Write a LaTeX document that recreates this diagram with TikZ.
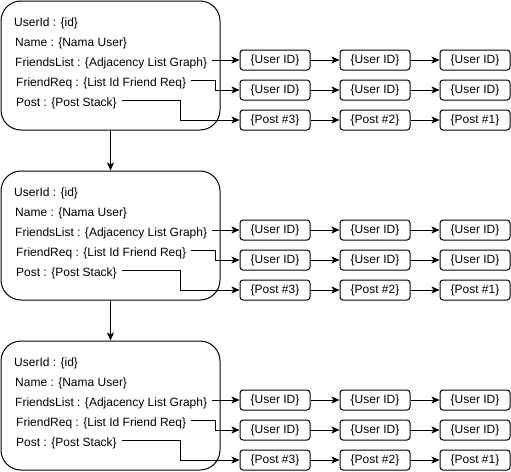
\documentclass[tikz,border=0pt]{standalone}
\usepackage{fontspec}
\setmainfont{Liberation Sans}
\usetikzlibrary{arrows.meta}
\begin{document}
\begin{tikzpicture}[x=1pt,y=-1pt,
  bigbox/.style={draw,line width=1pt,rounded corners=20pt,minimum width=219pt,minimum height=129pt,inner sep=0pt},
  cell/.style={draw,line width=1pt,rounded corners=3pt,minimum width=70pt,minimum height=20pt,inner sep=0pt,font=\fontsize{12pt}{14pt}\selectfont},
  txt/.style={anchor=west,inner xsep=5pt,inner ysep=0pt,text height=12pt,text depth=0pt,font=\fontsize{12pt}{14pt}\selectfont},
  arr/.style={line width=1pt,-{Stealth[length=8pt,width=7pt,inset=2pt]}},
  ln/.style={line width=1pt}]
\useasboundingbox (0,0) rectangle (511,471);
\fill[white] (0,0) rectangle (511,471);
\foreach \g/\o in {1/0,2/170,3/340}{
  \node[bigbox] (b\g) at (110.5,65.5+\o) {};
  \node[txt] (id\g) at (9,20+\o) {UserId : \{id\}};
  \node[txt] (nm\g) at (10,40+\o) {Name : \{Nama User\}};
  \node[txt] (fl\g) at (10,60+\o) {FriendsList : \{Adjacency List Graph\}};
  \node[txt] (fr\g) at (11,80+\o) {FriendReq : \{List Id Friend Req\}};
  \node[txt] (ps\g) at (11,100+\o) {Post : \{Post Stack\}};
  \node[cell] (ua\g) at (275,60+\o) {\{User ID\}};
  \node[cell] (ub\g) at (375,60+\o) {\{User ID\}};
  \node[cell] (uc\g) at (475,60+\o) {\{User ID\}};
  \node[cell] (ra\g) at (275,90+\o) {\{User ID\}};
  \node[cell] (rb\g) at (375,90+\o) {\{User ID\}};
  \node[cell] (rc\g) at (475,90+\o) {\{User ID\}};
  \node[cell] (pa\g) at (275,120+\o) {\{Post \#3\}};
  \node[cell] (pb\g) at (375,120+\o) {\{Post \#2\}};
  \node[cell] (pc\g) at (475,120+\o) {\{Post \#1\}};
  \draw[arr] (fl\g) -- (ua\g);
  \draw[arr] (fr\g.east) -- (215,80+\o) |- (ra\g);
  \draw[arr] (ps\g.east) -- (180,100+\o) |- (pa\g);
  \draw[arr] (ua\g) -- (ub\g);
  \draw[arr] (ub\g) -- (uc\g);
  \draw[arr] (ra\g) -- (rb\g);
  \draw[arr] (rb\g) -- (rc\g);
  \draw[arr] (pa\g) -- (pb\g);
  \draw[arr] (pb\g) -- (pc\g);
}
\draw[arr] (b1) -- (b2);
\draw[arr] (b2) -- (b3);
\end{tikzpicture}
\end{document}
